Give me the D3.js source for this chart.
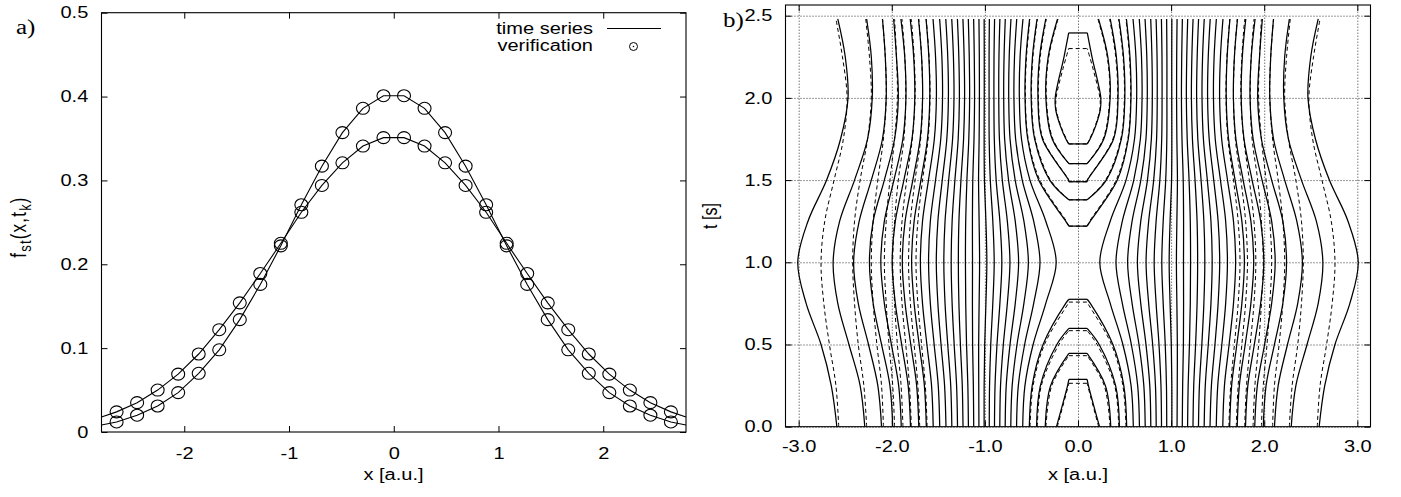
<!DOCTYPE html>
<html><head><meta charset="utf-8">
<script src="https://cdn.jsdelivr.net/npm/d3@7"></script>
<style>
body{margin:0;background:#fff;}
svg text{font-family:"Liberation Sans",Arial,Helvetica,sans-serif;fill:#000;}
</style></head><body>
<svg id="chart" width="1401" height="497"></svg>
<script>
// ---------------- data: panel a ----------------
const aTicksX = [-2, -1, 0, 1, 2];
const aTicksY = [0, 0.1, 0.2, 0.3, 0.4, 0.5];
const verX = [-2.646,-2.450,-2.254,-2.058,-1.862,-1.666,-1.470,-1.274,-1.078,-0.882,-0.686,-0.490,-0.294,-0.098,
               0.098, 0.294, 0.490, 0.686, 0.882, 1.078, 1.274, 1.470, 1.666, 1.862, 2.058, 2.254, 2.450, 2.646];
const verNarrow = [0.012,0.020,0.031,0.047,0.070,0.098,0.134,0.176,0.222,0.271,0.317,0.357,0.386,0.401,
                   0.401,0.386,0.357,0.317,0.271,0.222,0.176,0.134,0.098,0.070,0.047,0.031,0.020,0.012];
const verWide   = [0.024,0.035,0.050,0.069,0.093,0.122,0.154,0.189,0.225,0.262,0.294,0.321,0.341,0.351,
                   0.351,0.341,0.321,0.294,0.262,0.225,0.189,0.154,0.122,0.093,0.069,0.050,0.035,0.024];
const tsX = [-2.79,-2.646,-2.450,-2.254,-2.058,-1.862,-1.666,-1.470,-1.274,-1.078,-0.882,-0.686,-0.490,-0.294,-0.098,
              0.098, 0.294, 0.490, 0.686, 0.882, 1.078, 1.274, 1.470, 1.666, 1.862, 2.058, 2.254, 2.450, 2.646, 2.79];
const tsNarrow = [0.0084,0.012,0.020,0.031,0.047,0.070,0.098,0.134,0.176,0.222,0.271,0.317,0.357,0.386,0.401,
                  0.401,0.386,0.357,0.317,0.271,0.222,0.176,0.134,0.098,0.070,0.047,0.031,0.020,0.012,0.0084];
const tsWide   = [0.018,0.024,0.035,0.050,0.069,0.093,0.122,0.154,0.189,0.225,0.262,0.294,0.321,0.341,0.351,
                  0.351,0.341,0.321,0.294,0.262,0.225,0.189,0.154,0.122,0.093,0.069,0.050,0.035,0.024,0.018];

// ---------------- data: panel b (contour half-widths |x| per time row) ----------------
const bTicksX = [-3, -2, -1, 0, 1, 2, 3];
const bTicksT = [0, 0.5, 1.0, 1.5, 2.0, 2.5];
const tRows = [0, 0.25, 0.5, 0.75, 1.0, 1.25, 1.5, 1.75, 2.0, 2.25, 2.48];
const capHalf = 0.098;
const solidLevels = [
  [2.59,2.65,2.76,2.92,3.01,2.90,2.70,2.55,2.47,2.50,2.58],
  [2.29,2.34,2.46,2.58,2.63,2.56,2.40,2.26,2.21,2.22,2.27],
  [2.11,2.15,2.25,2.36,2.41,2.35,2.22,2.10,2.06,2.07,2.10],
  [1.99,2.02,2.11,2.20,2.24,2.20,2.08,1.97,1.93,1.95,1.98],
  [1.898,1.926,2.004,2.080,2.118,2.080,1.977,1.881,1.848,1.861,1.902],
  [1.799,1.824,1.894,1.962,1.996,1.962,1.870,1.783,1.753,1.765,1.802],
  [1.710,1.733,1.796,1.857,1.887,1.857,1.774,1.696,1.669,1.680,1.713],
  [1.629,1.650,1.706,1.760,1.787,1.760,1.687,1.617,1.592,1.602,1.632],
  [1.555,1.573,1.623,1.670,1.693,1.670,1.606,1.543,1.521,1.530,1.557],
  [1.485,1.501,1.545,1.586,1.605,1.586,1.530,1.474,1.455,1.462,1.486],
  [1.418,1.433,1.471,1.505,1.522,1.505,1.458,1.409,1.392,1.399,1.420],
  [1.355,1.367,1.399,1.428,1.441,1.428,1.389,1.347,1.332,1.338,1.356],
  [1.294,1.304,1.330,1.352,1.362,1.352,1.322,1.287,1.274,1.280,1.295],
  [1.235,1.243,1.263,1.279,1.285,1.279,1.257,1.229,1.218,1.223,1.236],
  [1.177,1.183,1.197,1.206,1.209,1.206,1.193,1.173,1.164,1.168,1.178],
  [1.120,1.124,1.132,1.134,1.133,1.134,1.130,1.117,1.111,1.114,1.121],
  [1.064,1.066,1.067,1.062,1.057,1.062,1.068,1.062,1.059,1.060,1.064],
  [1.008,1.008,1.002,0.989,0.979,0.989,1.005,1.008,1.007,1.007,1.008],
  [0.953,0.950,0.937,0.915,0.900,0.915,0.942,0.954,0.955,0.955,0.952],
  [0.897,0.891,0.870,0.839,0.818,0.839,0.879,0.899,0.903,0.902,0.896],
  [0.840,0.832,0.802,0.759,0.731,0.759,0.813,0.844,0.851,0.849,0.839],
  [0.782,0.771,0.730,0.674,0.638,0.674,0.746,0.788,0.798,0.794,0.781],
  [0.722,0.707,0.655,0.581,0.533,0.581,0.675,0.730,0.744,0.739,0.720],
  [0.660,0.641,0.573,0.476,0.408,0.476,0.599,0.670,0.688,0.682,0.658],
  [0.594,0.570,0.482,0.346,0.234,0.346,0.516,0.607,0.630,0.622,0.591],
  [0.523,0.492,0.375,0.132,null,0.132,0.422,0.540,0.569,0.558,0.520],
  [0.445,0.404,0.227,null,null,null,0.304,0.466,0.503,0.489,0.440],
  [0.352,0.294,null,null,null,null,0.101,0.382,0.430,0.412,0.346],
  [0.231,0.112,null,null,null,null,null,0.277,0.345,0.320,0.220]
];
const solidCloseLow  = [null,null,null,null,null,null,null,null,null,null,null,null,null,null,null,null,null,null,null,null,null,null,null,null,null,0.775,0.598,0.446,0.288];
const solidCloseHigh = [null,null,null,null,null,null,null,null,null,null,null,null,null,null,null,null,null,null,null,null,null,null,null,null,null,1.22,1.38,1.49,1.60];
const solidLoop = [[0.10,1.72],[0.13,1.75],[0.19,1.83],[0.24,1.93],[0.245,2.0],[0.15,2.25],[0.10,2.395]];

const dashedLevels = [
  [2.57,2.60,2.67,2.73,2.76,2.72,2.62,2.52,2.48,2.53,2.60],
  [2.27,2.30,2.36,2.40,2.42,2.40,2.34,2.26,2.22,2.24,2.28],
  [2.09,2.11,2.16,2.20,2.22,2.20,2.15,2.09,2.06,2.07,2.10],
  [1.97,1.99,2.03,2.06,2.08,2.06,2.02,1.97,1.94,1.95,1.97],
  [1.88,1.90,1.94,1.97,1.99,1.97,1.93,1.87,1.85,1.86,1.89],
  [1.79,1.81,1.85,1.89,1.91,1.89,1.84,1.78,1.75,1.76,1.79],
  [1.70,1.72,1.76,1.80,1.82,1.80,1.75,1.69,1.67,1.68,1.71],
  [1.62,1.64,1.68,1.72,1.74,1.72,1.67,1.61,1.59,1.60,1.63],
  [0.515,0.482,0.360,0.105,null,0.125,0.410,0.535,0.565,0.553,0.515],
  [0.437,0.394,0.205,null,null,null,0.295,0.460,0.498,0.484,0.434],
  [0.344,0.282,null,null,null,null,0.100,0.375,0.425,0.405,0.340],
  [0.222,0.104,null,null,null,null,null,0.270,0.340,0.314,0.214]
];
const dashedCloseLow  = [null,null,null,null,null,null,null,null,0.758,0.584,0.432,0.264];
const dashedCloseHigh = [null,null,null,null,null,null,null,null,1.22,1.38,1.49,1.60];
const dashedLoop = [[0.10,1.72],[0.125,1.75],[0.185,1.83],[0.235,1.93],[0.235,2.0],[0.16,2.18],[0.10,2.30]];

// ---------------- drawing ----------------
const SX = 1.25;
const FS = 16;
const svg = d3.select('#chart');
svg.append('rect').attr('width',1401).attr('height',497).attr('fill','#fff');

function stext(g, x, y, s, anchor, size, family) {
  return g.append('text')
    .attr('transform', `translate(${x},${y}) scale(${SX},1)`)
    .attr('text-anchor', anchor || 'middle')
    .attr('font-size', size || FS)
    .style('font-family', family || null)
    .text(s);
}
function styleAxisText(sel) {
  sel.selectAll('.tick text').attr('font-size', FS).attr('transform', `scale(${SX},1)`)
     .style('font-family','"Liberation Sans",Arial,sans-serif');
  sel.select('.domain').remove();
}

// ===== Panel a =====
const A = {x0: 101.5, x1: 686, y0: 12.7, y1: 432};
const xa = d3.scaleLinear().domain([-2.79, 2.79]).range([A.x0, A.x1]);
const ya = d3.scaleLinear().domain([0, 0.5]).range([A.y1, A.y0]);
const gA = svg.append('g');

gA.append('g').attr('transform', `translate(0,${A.y1})`)
  .call(d3.axisBottom(xa).tickValues(aTicksX).tickSizeInner(-6).tickSizeOuter(0).tickPadding(16).tickFormat(d => String(d)))
  .call(styleAxisText);
gA.append('g').attr('transform', `translate(0,${A.y0})`)
  .call(d3.axisTop(xa).tickValues(aTicksX).tickSizeInner(-6).tickSizeOuter(0).tickFormat(''))
  .call(styleAxisText);
gA.append('g').attr('transform', `translate(${A.x0},0)`)
  .call(d3.axisLeft(ya).tickValues(aTicksY).tickSizeInner(-6).tickSizeOuter(0).tickPadding(10.6).tickFormat(d => d === 0 ? '0' : d.toFixed(1)))
  .call(styleAxisText);
gA.append('g').attr('transform', `translate(${A.x1},0)`)
  .call(d3.axisRight(ya).tickValues(aTicksY).tickSizeInner(-6).tickSizeOuter(0).tickFormat(''))
  .call(styleAxisText);

const lineA = d3.line().x((d, i) => xa(tsX[i])).y(d => ya(d));
[tsNarrow, tsWide].forEach(s => {
  gA.append('path').attr('d', lineA(s)).attr('fill', 'none').attr('stroke', '#000').attr('stroke-width', 1.1);
});
[verNarrow, verWide].forEach(s => {
  gA.selectAll(null).data(s).enter().append('ellipse')
    .attr('cx', (d, i) => xa(verX[i])).attr('cy', d => ya(d))
    .attr('rx', 6.5).attr('ry', 6)
    .attr('fill', 'none').attr('stroke', '#000').attr('stroke-width', 1.1);
});
gA.append('rect').attr('x', A.x0).attr('y', A.y0).attr('width', A.x1 - A.x0).attr('height', A.y1 - A.y0)
  .attr('fill', 'none').attr('stroke', '#000').attr('stroke-width', 1.1);

// legend
stext(gA, 593, 34, 'time series', 'end');
stext(gA, 593, 51, 'verification', 'end');
gA.append('line').attr('x1', 607).attr('x2', 661).attr('y1', 28.5).attr('y2', 28.5).attr('stroke', '#000');
gA.append('circle').attr('cx', 633.5).attr('cy', 46.5).attr('r', 4).attr('fill', 'none').attr('stroke', '#000');
gA.append('circle').attr('cx', 633.5).attr('cy', 46.5).attr('r', 0.8).attr('fill', '#000');

// labels
stext(gA, 393.5, 480, 'x [a.u.]', 'middle');
const ylab = gA.append('text').attr('transform', `translate(26,227) scale(${SX},1) rotate(-90)`)
  .attr('text-anchor', 'middle').attr('font-size', 17).attr('letter-spacing', 1.2);
ylab.append('tspan').text('f');
ylab.append('tspan').attr('dy', 4).attr('font-size', 13).text('st');
ylab.append('tspan').attr('dy', -4).text('(x,t');
ylab.append('tspan').attr('dy', 4).attr('font-size', 13).text('k');
ylab.append('tspan').attr('dy', -4).text(')');
stext(gA, 16, 34, 'a)', 'start', 20, '"Liberation Serif","Times New Roman",serif');

// ===== Panel b =====
const B = {x0: 785.5, x1: 1370.5, y0: 5, y1: 426.7};
const xb = d3.scaleLinear().domain([-3.1416, 3.1416]).range([B.x0, B.x1]);
const yb = d3.scaleLinear().domain([0, 2.565]).range([B.y1, B.y0]);
const gB = svg.append('g');

// grid
const gridX = gB.append('g').attr('transform', `translate(0,${B.y1})`)
  .call(d3.axisBottom(xb).tickValues(bTicksX).tickSize(-(B.y1 - B.y0)).tickFormat(''));
const gridY = gB.append('g').attr('transform', `translate(${B.x0},0)`)
  .call(d3.axisLeft(yb).tickValues(bTicksT).tickSize(-(B.x1 - B.x0)).tickFormat(''));
[gridX, gridY].forEach(g => {
  g.select('.domain').remove();
  g.selectAll('.tick line').attr('stroke', '#333').attr('stroke-width', 1).attr('stroke-dasharray', '1,2');
});

gB.append('g').attr('transform', `translate(0,${B.y1})`)
  .call(d3.axisBottom(xb).tickValues(bTicksX).tickSizeInner(-6).tickSizeOuter(0).tickPadding(14).tickFormat(d => d.toFixed(1)))
  .call(styleAxisText);
gB.append('g').attr('transform', `translate(0,${B.y0})`)
  .call(d3.axisTop(xb).tickValues(bTicksX).tickSizeInner(-6).tickSizeOuter(0).tickFormat(''))
  .call(styleAxisText);
gB.append('g').attr('transform', `translate(${B.x0},0)`)
  .call(d3.axisLeft(yb).tickValues(bTicksT).tickSizeInner(-6).tickSizeOuter(0).tickPadding(10.6).tickFormat(d => d.toFixed(1)))
  .call(styleAxisText);
gB.append('g').attr('transform', `translate(${B.x1},0)`)
  .call(d3.axisRight(yb).tickValues(bTicksT).tickSizeInner(-6).tickSizeOuter(0).tickFormat(''))
  .call(styleAxisText);

const cLine = d3.line().x(d => xb(d[0])).y(d => yb(d[1])).curve(d3.curveCatmullRom.alpha(0.5));
const sLine = d3.line().x(d => xb(d[0])).y(d => yb(d[1]));
const gC = gB.append('g').attr('fill', 'none').attr('stroke', '#000');

function drawSet(levels, closeLow, closeHigh, dash, sw) {
  levels.forEach((widths, li) => {
    const segs = [];
    let cur = null;
    widths.forEach((w, i) => {
      if (w == null) { if (cur) { segs.push(cur); cur = null; } }
      else { if (!cur) cur = {i0: i, pts: []}; cur.pts.push([w, tRows[i]]); cur.i1 = i; }
    });
    if (cur) segs.push(cur);
    segs.forEach(s => {
      const pts = s.pts.slice();
      const caps = [];
      if (s.i0 > 0) { pts.unshift([capHalf, closeHigh[li]]); caps.push(closeHigh[li]); }
      if (s.i1 < tRows.length - 1) { pts.push([capHalf, closeLow[li]]); caps.push(closeLow[li]); }
      [-1, 1].forEach(sg => {
        gC.append('path').attr('d', cLine(pts.map(p => [sg * p[0], p[1]])))
          .attr('stroke-dasharray', dash).attr('stroke-width', sw);
      });
      caps.forEach(tc => {
        gC.append('path').attr('d', sLine([[-capHalf, tc], [capHalf, tc]]))
          .attr('stroke-dasharray', dash).attr('stroke-width', sw);
      });
    });
  });
}
function drawLoop(pts, dash, sw) {
  [-1, 1].forEach(sg => {
    gC.append('path').attr('d', cLine(pts.map(p => [sg * p[0], p[1]])))
      .attr('stroke-dasharray', dash).attr('stroke-width', sw);
  });
  [pts[0], pts[pts.length - 1]].forEach(p => {
    gC.append('path').attr('d', sLine([[-p[0], p[1]], [p[0], p[1]]]))
      .attr('stroke-dasharray', dash).attr('stroke-width', sw);
  });
}
drawSet(dashedLevels, dashedCloseLow, dashedCloseHigh, '4,3', 1);
drawLoop(dashedLoop, '4,3', 1);
drawSet(solidLevels, solidCloseLow, solidCloseHigh, null, 1.25);
drawLoop(solidLoop, null, 1.25);

gB.append('rect').attr('x', B.x0).attr('y', B.y0).attr('width', B.x1 - B.x0).attr('height', B.y1 - B.y0)
  .attr('fill', 'none').attr('stroke', '#000').attr('stroke-width', 1.1);

stext(gB, 1078, 480, 'x [a.u.]', 'middle');
svg.append('text').attr('transform', `translate(717,216) scale(${SX},1) rotate(-90)`)
  .attr('text-anchor', 'middle').attr('font-size', FS).text('t [s]');
stext(gB, 723, 27, 'b)', 'start', 20, '"Liberation Serif","Times New Roman",serif');
</script>
</body></html>
